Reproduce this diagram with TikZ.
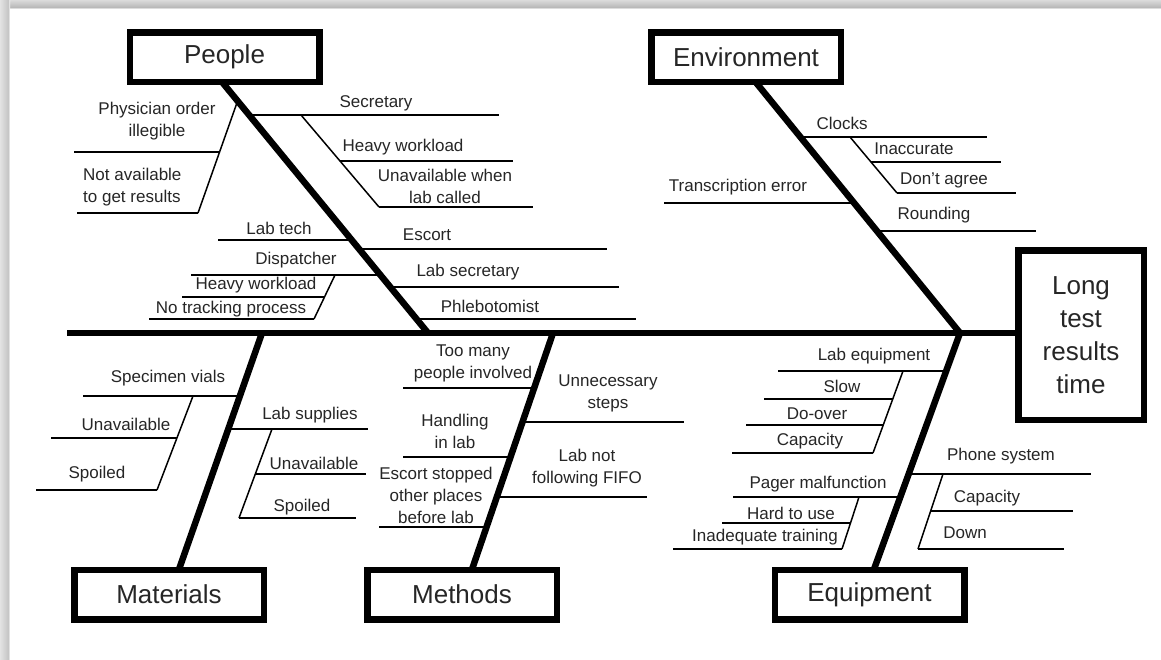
\documentclass[tikz,border=0pt]{standalone}
\usepackage{fontspec}
\setmainfont{Liberation Sans}
\usetikzlibrary{calc}
\pgfdeclarelayer{frame}
\pgfdeclarelayer{bones}
\pgfsetlayers{frame,bones,main}

\begin{document}
\begin{tikzpicture}[x=1pt,y=-1pt,
  bone/.style={line width=6.5pt},
  rib/.style={line width=1.5pt},
  catbox/.style={draw, fill=white, line width=6.5pt, minimum width=189.5pt,
    minimum height=49.5pt, inner sep=0pt, align=center, text=black!85,
    font=\fontsize{26}{33}\selectfont},
  lbl/.style={inner sep=0pt, align=center, text=black!85,
    font=\fontsize{17}{22}\selectfont}]
\useasboundingbox (0,0) rectangle (1161,659);

% page with a soft frame on the top and left edges
\begin{pgfonlayer}{frame}
  \fill[white] (0,0) rectangle (1161,659);
  \shade[top color=gray!28, bottom color=gray!55] (0,0) rectangle (1161,7);
  \shade[top color=gray!55, bottom color=white] (0,7) rectangle (1161,9);
  \shade[left color=gray!22, right color=gray!45] (0,0) rectangle (8,659);
  \shade[left color=gray!45, right color=white] (8,0) rectangle (10,659);
\end{pgfonlayer}

% category boxes and the effect
\node[catbox] (people) at (224.5,57) {People};
\node[catbox] (env)    at (746,57)   {Environment};
\node[catbox] (mat)    at (169,594.5) {Materials};
\node[catbox] (meth)   at (462,594.5) {Methods};
\node[catbox] (equip)  at (869.5,594.5) {Equipment};
\node[catbox, minimum width=125.5pt, minimum height=169.5pt] (effect)
  at (1081,335) {Long\\test\\results\\time};

% joints on the backbone
\coordinate (tail) at (67,333);
\coordinate (pj) at (428,333);
\coordinate (ej) at (960,333);
\coordinate (mj) at (262,333);
\coordinate (tj) at (553,333);
\coordinate (envtop) at ([xshift=12pt]env.south);
\coordinate (mattop) at ([xshift=11pt]mat.north);
\coordinate (methtop) at ([xshift=11pt]meth.north);
\coordinate (eqtop) at ([xshift=5.5pt]equip.north);

% backbone and main bones
\begin{pgfonlayer}{bones}
  \draw[bone] (tail) -- (tail -| effect.west);
  \draw[bone] ($(pj)!1.015!(people.south)$) -- (pj);
  \draw[bone, line join=miter] ($(ej)!1.015!(envtop)$) -- (ej) -- ($(ej)!1.02!(eqtop)$);
  \draw[bone] (mj) -- ($(mj)!1.02!(mattop)$);
  \draw[bone] (tj) -- ($(tj)!1.02!(methtop)$);
\end{pgfonlayer}

% ---------------- People ----------------
\draw[rib] (249.1,115) -- (499,115);
\draw[rib] (301,115) -- (379,207);
\draw[rib] (340,161) -- (513,161);
\draw[rib] (379,207) -- (533,207);
\draw[rib] (237.6,101) -- (198,213);
\draw[rib] (74,152) -- (219.6,152);
\draw[rib] (77,213) -- (198,213);
\draw[rib] (218,240) -- (351.7,240);
\draw[rib] (359.1,249) -- (607,249);
\draw[rib] (191,275) -- (380.4,275);
\draw[rib] (335,275) -- (314,319);
\draw[rib] (182,297) -- (324.5,297);
\draw[rib] (149,319) -- (314,319);
\draw[rib] (390.3,287) -- (619,287);
\draw[rib] (416.5,319) -- (636,319);

\node[lbl] (secretary) at (376,103) {Secretary};
\node[lbl] (heavyA) at (403,147) {Heavy workload};
\node[lbl] (unavwhen) at (445,186) {Unavailable when\\lab called};
\node[lbl] (physician) at (157,121) {Physician order\\illegible};
\node[lbl, align=left, anchor=west] (notavail) at (83,187) {Not available\\to get results};
\node[lbl] (labtech) at (279,228) {Lab tech};
\node[lbl] (escort) at (427,235) {Escort};
\node[lbl] (dispatcher) at (296,260) {Dispatcher};
\node[lbl] (heavyB) at (256,285) {Heavy workload};
\node[lbl] (notrack) at (231,309) {No tracking process};
\node[lbl] (labsec) at (468,272) {Lab secretary};
\node[lbl] (phleb) at (490,306) {Phlebotomist};

% ---------------- Environment ----------------
\draw[rib] (800.4,137) -- (987,137);
\draw[rib] (850,137) -- (897,193);
\draw[rib] (871,162) -- (1001,162);
\draw[rib] (897,193) -- (1016,193);
\draw[rib] (664,203) -- (854.1,203);
\draw[rib] (876.9,231) -- (1036,231);

\node[lbl] (clocks) at (842,123) {Clocks};
\node[lbl] (inacc) at (914,149) {Inaccurate};
\node[lbl] (dontagree) at (944,180) {Don’t agree};
\node[lbl] (transcr) at (738,187) {Transcription error};
\node[lbl] (rounding) at (934,215) {Rounding};

% ---------------- Materials ----------------
\draw[rib] (83,396) -- (239.9,396);
\draw[rib] (193,396) -- (157,490);
\draw[rib] (51,438) -- (176.9,438);
\draw[rib] (36,490) -- (157,490);
\draw[rib] (228.4,429) -- (368,429);
\draw[rib] (272,429) -- (239,518);
\draw[rib] (255.3,474) -- (366,474);
\draw[rib] (239,518) -- (356,518);

\node[lbl] (vials) at (168,378) {Specimen vials};
\node[lbl] (unavA) at (126,424) {Unavailable};
\node[lbl] (spoiledA) at (97,474) {Spoiled};
\node[lbl] (supplies) at (310,415) {Lab supplies};
\node[lbl] (unavB) at (314,463) {Unavailable};
\node[lbl] (spoiledB) at (302,507) {Spoiled};

% ---------------- Methods ----------------
\draw[rib] (403,388) -- (534.2,388);
\draw[rib] (403,457) -- (510.6,457);
\draw[rib] (379,527) -- (486.7,527);
\draw[rib] (522.6,422) -- (684,422);
\draw[rib] (496.9,497) -- (647,497);

\node[lbl] (toomany) at (473,363) {Too many\\people involved};
\node[lbl] (handling) at (455,431) {Handling\\in lab};
\node[lbl] (stopped) at (436,495) {Escort stopped\\other places\\before lab};
\node[lbl] (unnec) at (608,393) {Unnecessary\\steps};
\node[lbl] (fifo) at (587,468) {Lab not\\following FIFO};

% ---------------- Equipment ----------------
\draw[rib] (778,371) -- (946.2,371);
\draw[rib] (903,371) -- (873,453);
\draw[rib] (764,399) -- (892.8,399);
\draw[rib] (746,425) -- (883.2,425);
\draw[rib] (732,453) -- (873,453);
\draw[rib] (733,497) -- (900.4,497);
\draw[rib] (859,497) -- (842,549);
\draw[rib] (722,523) -- (850.5,523);
\draw[rib] (673,549) -- (842,549);
\draw[rib] (908.8,474) -- (1091,474);
\draw[rib] (943,474) -- (918,549);
\draw[rib] (930.7,511) -- (1073,511);
\draw[rib] (918,549) -- (1064,549);

\node[lbl] (labeq) at (874,356) {Lab equipment};
\node[lbl] (slow) at (842,386) {Slow};
\node[lbl] (doover) at (817,414) {Do-over};
\node[lbl] (capA) at (810,441) {Capacity};
\node[lbl] (pager) at (818,484) {Pager malfunction};
\node[lbl] (hard) at (791,513) {Hard to use};
\node[lbl] (training) at (765,537) {Inadequate training};
\node[lbl] (phone) at (1001,456) {Phone system};
\node[lbl] (capB) at (987,498) {Capacity};
\node[lbl] (down) at (965,533) {Down};
\end{tikzpicture}
\end{document}
